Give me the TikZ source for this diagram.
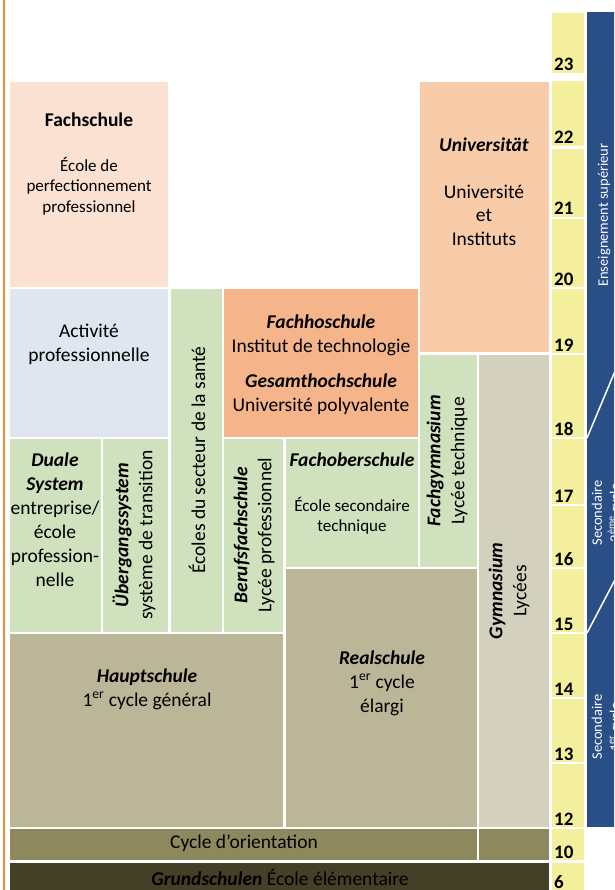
\documentclass[tikz,border=0pt]{standalone}
\usepackage{fontspec}
\setmainfont{Carlito}
\usepackage{xcolor}
\definecolor{fachschulecol}{HTML}{FBE1D2}
\definecolor{activitecol}{HTML}{DFE6F0}
\definecolor{vertcol}{HTML}{D0E1BD}
\definecolor{fachhochcol}{HTML}{F6B48B}
\definecolor{unicol}{HTML}{F8CBA9}
\definecolor{gymcol}{HTML}{D3D0BD}
\definecolor{kakicol}{HTML}{BBB697}
\definecolor{olivecol}{HTML}{8E885E}
\definecolor{sombrecol}{HTML}{443F27}
\definecolor{jaunecol}{HTML}{F3EF9D}
\definecolor{bleucol}{HTML}{2A4E86}
\definecolor{orangecol}{HTML}{F28C35}
\newcommand{\bfit}[1]{\textbf{\textit{#1}}}
\usetikzlibrary{calc}

\begin{document}
\begin{tikzpicture}[x=1pt,y=-1pt,
txt/.style={font=\fontsize{19.5}{24}\selectfont,align=center,inner sep=0pt},
smalltxt/.style={font=\fontsize{17}{20.5}\selectfont,align=center,inner sep=0pt},
bluetxt/.style={font=\fontsize{14.5}{18}\selectfont,align=center,inner sep=0pt,text=white,rotate=90},
yr/.style={font=\bfseries\fontsize{19}{19}\selectfont,anchor=base west,inner sep=0pt}]
\useasboundingbox (0,0) rectangle (614,890);
\draw[orangecol,line width=2](4,0)--(4,890);
% boxes
\fill[fachschulecol](10,82) rectangle (168,287);
\fill[activitecol](10,289) rectangle (168,437);
\fill[vertcol](171,289) rectangle (222,632);
\fill[fachhochcol](224,289) rectangle (418,437);
\fill[unicol](420,82) rectangle (549,352);
\fill[vertcol](420,355) rectangle (477,567);
\fill[gymcol](479,355) rectangle (549,827);
\fill[vertcol](10,439) rectangle (101,632);
\fill[vertcol](103,439) rectangle (168,632);
\fill[vertcol](224,439) rectangle (283,632);
\fill[vertcol](286,439) rectangle (418,567);
\fill[kakicol](286,569) rectangle (477,827);
\fill[kakicol](10,634) rectangle (283,827);
\fill[olivecol](10,829) rectangle (477,860);
\fill[olivecol](479,829) rectangle (549,860);
\fill[sombrecol](10,863) rectangle (549,895);
% texts
\node[txt] (fachschule) at (89,120) {\textbf{Fachschule}};
\node[smalltxt] (perfect) at (89,186) {École de\\perfectionnement\\professionnel};
\node[txt] (uni) at (484,145) {\bfit{Universität}};
\node[txt,font=\fontsize{19.5}{23.5}\selectfont] (instituts) at (484,215) {Université\\et\\Instituts};
\node[txt] (activite) at (89,344) {Activité\\professionnelle};
\node[txt,rotate=90] (sante) at (197,460) {Écoles du secteur de la santé};
\node[txt] (fachhoch) at (321,335) {\bfit{Fachhoschule}\\Institut de technologie};
\node[txt] (gesamt) at (321,394) {\bfit{Gesamthochschule}\\Université polyvalente};
\node[txt] (duale) at (55,520) {\bfit{Duale}\\\bfit{System}\\entreprise/\\école\\profession-\\nelle};
\node[txt,rotate=90] (uebergang) at (134,535) {\bfit{Übergangssystem}\\système de transition};
\node[txt,rotate=90] (berufs) at (254,535) {\bfit{Berufsfachschule}\\Lycée professionnel};
\node[txt] (fachober) at (352,460) {\bfit{Fachoberschule}};
\node[smalltxt] (ecolesec) at (352,516) {École secondaire\\technique};
\node[txt,rotate=90] (fachgym) at (447,461) {\bfit{Fachgymnasium}\\Lycée technique};
\node[txt,rotate=90] (gym) at (509,591) {\bfit{Gymnasium}\\Lycées};
\node[txt] (haupt) at (147,689) {\bfit{Hauptschule}\\1\textsuperscript{er} cycle général};
\node[txt] (real) at (382,683) {\bfit{Realschule}\\1\textsuperscript{er} cycle\\élargi};
\node[txt] (orient) at (244,843) {Cycle d’orientation};
\node[txt] (grund) at (280,877) {\bfit{Grundschulen} École élémentaire};
% years
\foreach \ya/\yb/\yn in {13/73/23,81/146/22,149/217/21,219/287/20,289/353/19,355/437/18,439/504/17,506/567/16,569/632/15,634/697/14,699/762/13,764/827/12,829/860/10,863/890/6}{
\fill[jaunecol](552,\ya) rectangle (584,\yb);
\node[yr] (y\yn) at (554,\yb-2) {\yn};}
% levels
\begin{scope}
\clip (0,0) rectangle (614,890);
\fill[bleucol](587,12) rectangle (630,827);
\draw[white,line width=1.5](587,438)--(618,364);
\draw[white,line width=1.5](587,633)--(618,574);
\node[bluetxt] (sup) at (604,215) {Enseignement supérieur};
\node[bluetxt] (sec2) at (607,513) {Secondaire\\2\textsuperscript{ème} cycle};
\node[bluetxt] (sec1) at (607,727) {Secondaire\\1\textsuperscript{er} cycle};
\end{scope}
\end{tikzpicture}
\end{document}
